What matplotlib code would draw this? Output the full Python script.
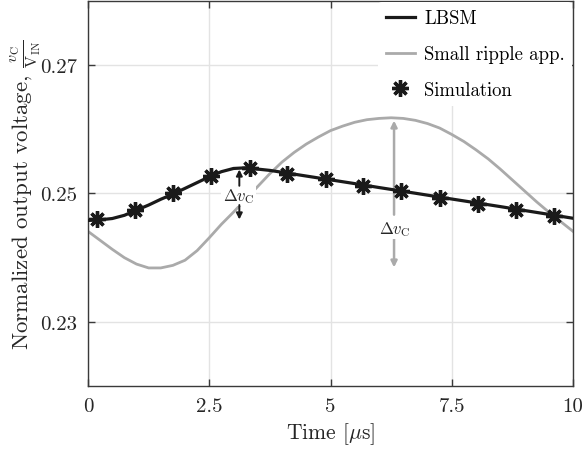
import matplotlib
matplotlib.use("Agg")
import matplotlib.pyplot as plt

plt.rcParams['font.family'] = ['cmr10', 'DejaVu Serif']
plt.rcParams['mathtext.fontset'] = 'cm'
plt.rcParams['axes.unicode_minus'] = False
plt.rcParams['axes.formatter.use_mathtext'] = True

# ---- data ----
lbsm_t = [0.0, 0.25, 0.5, 0.75, 1.0, 1.25, 1.5, 1.75, 2.0, 2.25, 2.5, 2.75,
          3.0, 3.25, 3.5, 3.75, 4.0, 4.5, 5.0, 5.5, 6.0, 6.5, 7.0, 7.5,
          8.0, 8.5, 9.0, 9.5, 10.0]
lbsm_v = [0.2458, 0.2459, 0.2461, 0.2466, 0.2474, 0.2482, 0.2491, 0.2499,
          0.2508, 0.2517, 0.2526, 0.2534, 0.2539, 0.2540, 0.2538, 0.2536,
          0.25331, 0.25272, 0.25213, 0.25154, 0.25093, 0.25034, 0.24974,
          0.24914, 0.24855, 0.24796, 0.24735, 0.24675, 0.24614]

ripple_t = [0.0, 0.25, 0.5, 0.75, 1.0, 1.25, 1.5, 1.75, 2.0, 2.25, 2.5,
            2.75, 3.0, 3.25, 3.5, 3.75, 4.0, 4.25, 4.5, 4.75, 5.0, 5.25,
            5.5, 5.75, 6.0, 6.25, 6.5, 6.75, 7.0, 7.25, 7.5, 7.75, 8.0,
            8.25, 8.5, 8.75, 9.0, 9.25, 9.5, 9.75, 10.0]
ripple_v = [0.2441, 0.2427, 0.2413, 0.2400, 0.2390, 0.2384, 0.2384, 0.2388,
            0.2396, 0.2411, 0.2431, 0.2452, 0.2471, 0.2491, 0.2511, 0.2531,
            0.2549, 0.2564, 0.2577, 0.2588, 0.2598, 0.2605, 0.2611, 0.2615,
            0.2617, 0.2618, 0.2617, 0.2614, 0.2609, 0.2602, 0.2592, 0.2581,
            0.2568, 0.2554, 0.2538, 0.2521, 0.2504, 0.2487, 0.2471, 0.2456,
            0.2441]

sim_t = [0.19, 0.97, 1.76, 2.54, 3.34, 4.11, 4.90, 5.67, 6.46, 7.25, 8.04,
         8.82, 9.60]
sim_v = [0.2460, 0.2474, 0.2500, 0.2527, 0.2539, 0.2531, 0.2523, 0.2512,
         0.2504, 0.2493, 0.2483, 0.2474, 0.2465]

xticks = [0, 2.5, 5, 7.5, 10]
xticklabels = ['0', '2.5', '5', '7.5', '10']
yticks = [0.23, 0.25, 0.27]
yticklabels = ['0.23', '0.25', '0.27']

# ---- figure ----
fig = plt.figure(figsize=(5.84, 4.52), dpi=100)
ax = fig.add_axes([0.1507, 0.1438, 0.8305, 0.8518])

GRAY = '#aaaaaa'
SPINE = '#3a3a3a'

ax.plot(lbsm_t, lbsm_v, color='#1a1a1a', lw=2.3, label='LBSM', zorder=3)
ax.plot(ripple_t, ripple_v, color=GRAY, lw=2.0, label='Small ripple app.',
        zorder=2)
ax.plot(sim_t, sim_v, linestyle='none', marker=(8, 2, 0), markersize=12,
        markeredgewidth=2.4, color='#1a1a1a', label='Simulation', zorder=4)

ax.set_xlim(0, 10)
ax.set_ylim(0.22, 0.28)
ax.set_xticks(xticks)
ax.set_xticklabels(xticklabels)
ax.set_yticks(yticks)
ax.set_yticklabels(yticklabels)
ax.tick_params(direction='in', length=5, width=1, colors=SPINE,
               labelcolor='#262626', labelsize=15, top=True, right=True,
               pad=8)
ax.grid(True, color='#e3e3e3', lw=1.0)
ax.set_axisbelow(True)
for s in ax.spines.values():
    s.set_color(SPINE)
    s.set_linewidth(1.0)

ax.set_xlabel(r'Time [$\mu$s]', fontsize=15.5, color='#262626', labelpad=4)
ax.set_ylabel(r'Normalized output voltage, $\frac{v_{\rm C}}{{\rm V}_{\rm IN}}$',
              fontsize=16.5, color='#262626', labelpad=-2)

leg = ax.legend(loc='upper right', fontsize=13.5, frameon=True,
                handlelength=1.55, handletextpad=0.5, labelspacing=0.95,
                borderaxespad=0.05, borderpad=0.4)
leg.get_frame().set_facecolor('white')
leg.get_frame().set_edgecolor('white')
leg.get_frame().set_alpha(1.0)
leg.get_frame().set_linewidth(0)

# ---- Delta v_C annotations ----
lab_kw = dict(ha='center', va='center', fontsize=12, color='#262626',
              bbox=dict(facecolor='white', edgecolor='none', pad=1.0),
              zorder=5)
ax.text(3.1, 0.2497, r'$\Delta v_{\rm C}$', **lab_kw)
ak = dict(arrowstyle='-|>', color='#1a1a1a', lw=1.4, mutation_scale=9,
          shrinkA=0, shrinkB=0)
ax.annotate('', xy=(3.12, 0.25374), xytext=(3.12, 0.2512), arrowprops=ak,
            zorder=5)
ax.annotate('', xy=(3.12, 0.24595), xytext=(3.12, 0.2482), arrowprops=ak,
            zorder=5)

ax.text(6.33, 0.24455, r'$\Delta v_{\rm C}$', **lab_kw)
ag = dict(arrowstyle='-|>', color=GRAY, lw=1.8, mutation_scale=9,
          shrinkA=0, shrinkB=0)
ax.annotate('', xy=(6.31, 0.26136), xytext=(6.31, 0.2467), arrowprops=ag,
            zorder=2)
ax.annotate('', xy=(6.31, 0.23848), xytext=(6.31, 0.2430), arrowprops=ag,
            zorder=2)

fig.savefig('out.png', dpi=100)
